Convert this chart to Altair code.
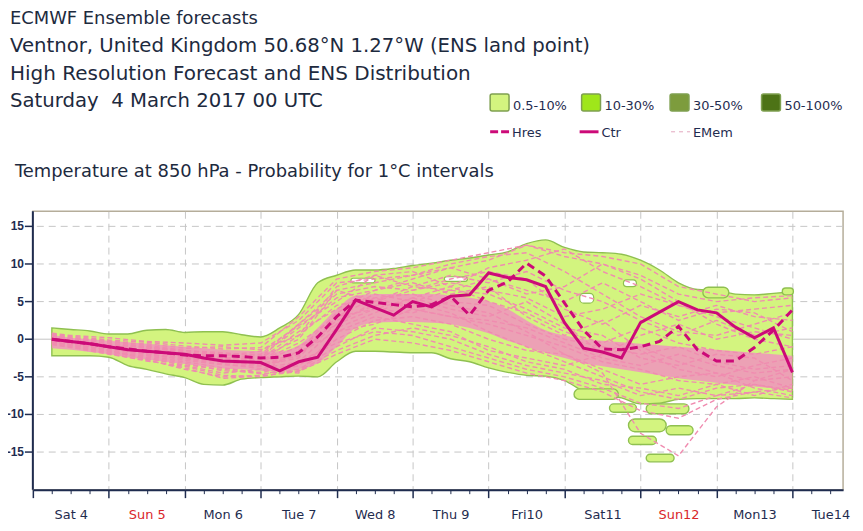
import json
import altair as alt
import pandas as pd

# ---------------- data ----------------
HOURS = list(range(6, 241, 6))  # hours after Sat 4 March 2017 00 UTC

CTR = [0.0, -0.3, -0.6, -1.0, -1.4, -1.6, -1.8, -2.0, -2.5, -2.9,
       -3.0, -3.1, -4.2, -3.0, -2.4, 1.3, 5.2, 4.2, 3.2, 5.0,
       4.3, 5.7, 5.9, 8.8, 8.2, 7.9, 7.0, 2.2, -1.2, -1.7,
       -2.5, 2.2, 3.6, 5.0, 3.9, 3.5, 1.6, 0.2, 1.5, -4.4]

HRES = [0.0, -0.3, -0.6, -1.0, -1.3, -1.6, -1.8, -2.1, -2.2, -2.2,
        -2.3, -2.5, -2.4, -1.8, 0.3, 3.0, 5.2, 4.9, 4.6, 4.3,
        4.6, 5.7, 3.2, 6.5, 7.6, 10.1, 8.4, 4.8, 1.2, -1.3,
        -1.4, -1.0, -0.3, 1.7, -1.4, -2.9, -2.9, -1.1, 1.2, 3.9]

ENS_HI = [1.5, 1.3, 1.1, 0.7, 0.7, 1.2, 1.3, 0.9, 1.0, 1.0,
          0.6, 0.3, 1.5, 3.3, 7.5, 8.5, 9.2, 9.2, 9.4, 9.8,
          10.1, 10.5, 10.8, 11.2, 11.6, 12.7, 13.2, 12.2, 11.6, 11.5,
          11.3, 10.5, 9.2, 7.5, 6.6, 6.5, 6.0, 5.9, 6.1, 6.3]

ENS_LO = [-2.2, -2.2, -2.2, -2.4, -3.5, -4.0, -4.6, -5.1, -6.0, -6.1,
          -5.3, -5.1, -5.0, -4.9, -5.0, -3.0, -1.6, -1.6, -1.7, -1.8,
          -1.8, -2.6, -3.0, -3.8, -4.4, -4.8, -4.9, -5.5, -6.9, -7.4,
          -7.8, -8.6, -8.5, -8.0, -7.9, -7.9, -7.9, -7.8, -7.9, -8.0]

CORE_HI = [0.6, 0.2, 0.0, -0.2, -0.4, -0.6, -0.8, -1.0, -1.2, -1.4,
           -1.5, -1.6, -1.6, -0.8, 1.5, 4.0, 5.8, 6.0, 6.0, 6.0,
           6.0, 5.8, 5.5, 5.0, 4.0, 2.5, 1.2, 0.5, 0.0, -0.2,
           -0.4, -0.6, -0.8, -1.0, -1.2, -1.4, -1.6, -1.8, -2.0, -2.2]

CORE_LO = [-1.2, -1.4, -1.7, -2.0, -2.4, -2.7, -3.0, -3.3, -3.6, -3.9,
           -4.0, -4.2, -4.3, -4.0, -3.2, -1.0, 1.5, 2.2, 2.3, 2.3,
           2.2, 2.0, 1.5, 0.8, -0.2, -1.0, -1.8, -2.5, -3.2, -3.6,
           -4.0, -4.4, -4.8, -5.2, -5.5, -5.8, -6.1, -6.3, -6.5, -6.6]

MEM_HOURS = [6, 12, 24, 36, 48, 60, 72, 84, 96, 108, 120, 132, 144, 156, 168, 180, 192, 204, 216, 228, 240]
MEMBERS = [
    [0.8, 0.5, 0.2, -0.3, -0.5, -0.8, -0.5, 2.5, 7.5, 8.0, 8.5, 9.5, 10.5, 12.5, 11.0, 10.0, 8.5, 6.0, 5.0, 5.5, 5.8],
    [0.3, 0.0, -0.8, -1.0, -1.5, -2.0, -2.0, 2.0, 6.0, 7.0, 6.5, 8.0, 9.0, 8.0, 4.0, 2.0, 4.5, 3.0, 4.5, 3.0, 2.5],
    [-0.5, -0.8, -1.2, -2.0, -2.5, -3.0, -3.5, -2.5, 3.0, 5.5, 4.0, 3.0, 2.0, 0.5, -1.0, -3.0, -4.0, -5.5, -6.0, -5.0, -6.5],
    [-0.2, -0.5, -1.5, -2.5, -3.5, -4.5, -4.0, -4.5, 1.0, 3.0, 2.0, 1.0, -1.5, -2.5, -3.5, -2.0, -1.0, -3.0, -4.5, -6.5, -7.5],
    [0.2, -0.2, -1.0, -1.5, -2.5, -3.0, -3.0, 0.5, 4.5, 5.5, 6.0, 4.5, 3.5, 1.0, -2.0, -4.5, -12.5, -15.5, -9.0, -5.5, -4.0],
    [-0.6, -1.0, -1.8, -2.2, -3.0, -3.8, -4.5, -3.0, -0.5, 1.0, 0.5, -1.0, -2.5, -4.0, -5.0, -6.5, -8.5, -9.2, -7.5, -7.0, -7.8],
    [0.5, 0.2, -0.2, -0.8, -1.5, -1.8, -2.2, 1.5, 5.5, 6.5, 8.0, 9.5, 8.0, 6.0, 7.0, 10.0, 8.0, 5.0, 2.0, 0.0, -1.0],
    [-0.3, -0.6, -1.3, -1.8, -2.0, -2.5, -3.0, -1.0, 2.0, 4.0, 3.5, 5.0, 4.5, 2.0, 0.0, -1.0, -2.0, -1.0, -3.0, -4.0, -3.5],
    [0.0, -0.4, -1.5, -2.7, -4.0, -5.0, -4.8, -3.5, 0.0, 2.5, 3.0, 2.0, 0.0, -1.5, -2.0, -4.0, -6.0, -5.0, -4.5, -5.5, -5.0],
    [0.4, 0.0, -0.5, -1.2, -2.0, -2.5, -2.5, 2.0, 6.5, 7.5, 8.5, 10.0, 11.0, 11.5, 9.0, 6.0, 3.0, 1.0, 0.5, 2.0, 3.5],
    [0.1, -0.3, -1.1, -1.9, -2.8, -3.4, -3.6, -2.0, 2.5, 4.5, 4.8, 3.5, 1.0, -1.0, -3.0, -5.0, -7.0, -8.0, -6.5, -6.0, -6.8],
    [-0.4, -0.7, -1.6, -2.4, -3.2, -4.2, -4.4, -1.5, 3.5, 6.0, 5.0, 6.5, 6.0, 4.0, 1.5, 0.5, -2.5, -3.5, -2.0, -2.5, -5.5],
    [0.6, 0.3, -0.4, -0.6, -1.2, -1.0, -1.4, 0.5, 7.0, 8.5, 9.0, 7.0, 9.5, 10.5, 12.0, 9.0, 7.0, 4.5, 3.5, 4.0, 4.5],
    [-0.1, -0.5, -1.4, -2.1, -2.6, -3.3, -3.9, -3.0, 1.5, 3.5, 5.5, 4.0, 3.0, 5.0, 2.0, -2.0, 0.5, 2.0, 0.0, 1.0, 0.5],
    [0.2, -0.1, -0.9, -1.4, -2.2, -2.8, -2.6, 1.0, 4.0, 6.5, 7.5, 6.0, 7.0, 3.0, 0.5, 2.5, -1.5, -4.0, -5.0, -3.5, -2.5],
    [-0.3, -0.8, -1.9, -2.9, -3.6, -4.8, -5.0, -4.0, -1.0, 1.5, 1.0, 0.0, -2.0, -3.5, -4.5, -5.5, -7.5, -6.5, -7.5, -6.0, -7.0],
    [0.7, 0.4, -0.1, -0.4, -0.9, -1.3, -1.1, 3.0, 8.0, 9.0, 9.5, 10.5, 11.5, 12.5, 11.5, 11.0, 10.0, 7.0, 6.0, 5.0, 5.5],
    [-0.2, -0.6, -1.2, -1.7, -2.3, -3.1, -3.4, -2.2, 2.0, 5.0, 6.5, 7.5, 6.5, 5.5, 3.0, 4.0, 6.0, 4.5, 3.0, 1.5, 0.0],
    [0.3, 0.1, -0.7, -1.1, -1.8, -2.4, -2.9, -0.5, 3.0, 4.0, 5.5, 7.0, 5.0, 3.5, 1.0, -0.5, 1.5, -0.5, -1.5, -2.0, -1.0],
    [-0.5, -0.9, -1.7, -2.6, -3.4, -4.0, -4.6, -4.2, -1.5, 0.5, 1.5, 0.5, -1.0, -3.0, -4.0, -6.0, -6.5, -7.5, -6.0, -7.5, -6.0],
    [0.0, -0.2, -0.6, -1.0, -1.8, -2.2, -1.6, 1.8, 5.0, 8.5, 7.0, 8.5, 7.5, 9.0, 6.5, 5.0, 2.5, 0.5, 2.5, 0.5, 1.5],
    [-0.1, -0.4, -1.0, -1.6, -2.4, -2.9, -3.3, -1.8, 1.0, 2.0, 4.0, 3.0, 2.5, 1.5, -0.5, -2.5, -3.5, -2.0, -3.5, -4.5, -4.0],
    [0.5, 0.1, -0.3, -1.0, -1.7, -2.1, -2.4, 0.0, 6.5, 5.0, 7.0, 6.5, 8.0, 6.5, 5.0, 7.5, 5.0, 2.5, 4.0, 3.5, 1.0],
    [-0.7, -1.1, -2.0, -2.8, -3.8, -5.2, -4.9, -4.3, -2.0, 0.0, -0.5, -1.5, -3.0, -4.5, -5.5, -7.0, -9.5, -10.5, -8.0, -7.0, -6.5],
]

# isolated 0.5-10% patches (start h, end h, low T, high T)
BLOB_H1 = [171.0, 182.2, 193.8, 188.2, 200.1, 188.2, 193.8, 211.7, 236.8]
BLOB_H2 = [185.0, 190.7, 207.3, 200.1, 208.6, 197.0, 202.6, 219.9, 240.3]
BLOB_LO = [-8.0, -9.7, -9.9, -12.3, -12.7, -14.0, -16.3, 5.5, 5.9]
BLOB_HI = [-6.6, -8.6, -8.6, -10.6, -11.5, -12.9, -15.3, 6.9, 6.8]

# holes inside the distribution
HOLE_H1 = [100.5, 130.0, 172.8, 186.6]
HOLE_H2 = [108.1, 137.3, 177.2, 190.7]
HOLE_LO = [7.5, 7.7, 4.8, 7.0]
HOLE_HI = [8.1, 8.3, 6.1, 7.9]

DAY_LABELS = ["Sat 4", "Sun 5", "Mon 6", "Tue 7", "Wed 8", "Thu 9",
              "Fri10", "Sat11", "Sun12", "Mon13", "Tue14"]
SUNDAYS = ["Sun 5", "Sun12"]
Y_TICKS = [-15, -10, -5, 0, 5, 10, 15]

TITLE_LINES = ["ECMWF Ensemble forecasts",
               "Ventnor, United Kingdom 50.68°N 1.27°W (ENS land point)",
               "High Resolution Forecast and ENS Distribution",
               "Saturday\u00a0 4 March 2017 00 UTC"]
SUBTITLE = "Temperature at 850 hPa - Probability for 1°C intervals"
PROB_LABELS = ["0.5-10%", "10-30%", "30-50%", "50-100%"]
LINE_LABELS = ["Hres", "Ctr", "EMem"]

# ---------------- styles ----------------
NAVY = "#1f2c4f"
TXT = "#1d2a3e"
MAGENTA = "#cc0a78"
MEM_COL = "#f08cb0"
CORE_COL = "#f38cc3"
ENS_FILL = "#d3f47f"
ENS_STROKE = "#8fc050"
GRID = "#c6c6c6"
PROB_COLORS = ["#d3f47f", "#9fe61a", "#7d9c3d", "#4d7316"]
FONT = "DejaVu Sans"

xs = alt.Scale(domain=[0, 256], nice=False, zero=False)
ys = alt.Scale(domain=[-20, 17], nice=False, zero=False)

df = pd.DataFrame({"h": HOURS, "ctr": CTR, "hres": HRES,
                   "hi": ENS_HI, "lo": ENS_LO, "chi": CORE_HI, "clo": CORE_LO})
mem_rows = []
for i, vals in enumerate(MEMBERS):
    for h, v in zip(MEM_HOURS, vals):
        mem_rows.append({"m": f"m{i+1}", "h": h, "t": v})
mem_df = pd.DataFrame(mem_rows)
blob_df = pd.DataFrame({"h1": BLOB_H1, "h2": BLOB_H2, "lo": BLOB_LO, "hi": BLOB_HI})
hole_df = pd.DataFrame({"h1": HOLE_H1, "h2": HOLE_H2, "lo": HOLE_LO, "hi": HOLE_HI})
ytick_df = pd.DataFrame({"y": Y_TICKS, "lab": [str(v) for v in Y_TICKS]})
ygrid_df = pd.DataFrame({"y": [v for v in Y_TICKS if v != 0]})

day_vals = [24 * k for k in range(len(DAY_LABELS))]
minor_vals = [h for h in range(6, 256, 6) if h % 24 != 0]
noon_vals = [24 * k + 12 for k in range(len(DAY_LABELS))]

axis_days = alt.Axis(values=day_vals, labels=False, ticks=True, tickSize=8,
                     tickColor=NAVY, tickWidth=1.5, domain=True, domainColor=NAVY,
                     domainWidth=2, grid=True, gridColor=GRID, gridDash=[7, 5],
                     gridWidth=1, title=None, orient="bottom")
axis_minor = alt.Axis(values=minor_vals, labels=False, ticks=True, tickSize=4,
                      tickColor=NAVY, tickWidth=1, domain=False, grid=False,
                      title=None, orient="bottom")
sun_vals = [24 * DAY_LABELS.index(s) + 12 for s in SUNDAYS]
sun_test = " || ".join(f"datum.value == {v}" for v in sun_vals)
axis_labels = alt.Axis(values=noon_vals, ticks=False, tickSize=0, domain=False, grid=False,
                       labelExpr=json.dumps(DAY_LABELS) + "[floor(datum.value / 24)]",
                       labelColor=alt.condition(sun_test, alt.value("#d9262a"), alt.value(NAVY)),
                       labelFont=FONT, labelFontSize=13, labelPadding=19,
                       labelAlign="center", title=None, orient="bottom")

# y axis drawn from the tick list through the y scale
ygrid = alt.Chart(ygrid_df).mark_rule(color=GRID, strokeWidth=1, strokeDash=[7, 5]).encode(
    y=alt.Y("y:Q", scale=ys, axis=None))
zero = alt.Chart(pd.DataFrame({"y": [0]})).mark_rule(color="#c4c4c4", strokeWidth=1).encode(
    y=alt.Y("y:Q", scale=ys, axis=None))
yticks = alt.Chart(ytick_df).mark_rule(color=NAVY, strokeWidth=1.5).encode(
    y=alt.Y("y:Q", scale=ys, axis=None), x=alt.value(-8), x2=alt.value(0))
ylabels = alt.Chart(ytick_df).mark_text(align="right", baseline="middle", font="Liberation Sans",
                                        fontSize=12, fontWeight="bold", color=NAVY).encode(
    y=alt.Y("y:Q", scale=ys, axis=None), x=alt.value(-9), text="lab:N")
ydomain = alt.Chart(pd.DataFrame({"y": [17], "y2": [-20]})).mark_rule(color=NAVY, strokeWidth=2).encode(
    y=alt.Y("y:Q", scale=ys, axis=None), y2="y2:Q", x=alt.value(0))

env = alt.Chart(df).mark_area(fill=ENS_FILL, stroke=ENS_STROKE, strokeWidth=1.4,
                              interpolate="monotone").encode(
    x=alt.X("h:Q", scale=xs, axis=axis_days),
    y=alt.Y("hi:Q", scale=ys, axis=None),
    y2="lo:Q")

blobs = alt.Chart(blob_df).mark_rect(fill=ENS_FILL, stroke=ENS_STROKE, strokeWidth=1.4,
                                     cornerRadius=8).encode(
    x=alt.X("h1:Q", scale=xs, axis=None), x2="h2:Q",
    y=alt.Y("hi:Q", scale=ys, axis=None), y2="lo:Q")

holes = alt.Chart(hole_df).mark_rect(fill="white", stroke=ENS_STROKE, strokeWidth=1.2,
                                     cornerRadius=4).encode(
    x=alt.X("h1:Q", scale=xs, axis=None), x2="h2:Q",
    y=alt.Y("hi:Q", scale=ys, axis=None), y2="lo:Q")

core = alt.Chart(df).mark_area(fill=CORE_COL, opacity=0.8, interpolate="monotone").encode(
    x=alt.X("h:Q", scale=xs, axis=None),
    y=alt.Y("chi:Q", scale=ys, axis=None),
    y2="clo:Q")

members = alt.Chart(mem_df).mark_line(color=MEM_COL, strokeWidth=1.4, strokeDash=[5, 3]).encode(
    x=alt.X("h:Q", scale=xs, axis=None),
    y=alt.Y("t:Q", scale=ys, axis=None),
    detail="m:N")

ctr = alt.Chart(df).mark_line(color=MAGENTA, strokeWidth=3).encode(
    x=alt.X("h:Q", scale=xs, axis=axis_minor),
    y=alt.Y("ctr:Q", scale=ys, axis=None))

hres = alt.Chart(df).mark_line(color=MAGENTA, strokeWidth=3, strokeDash=[8, 5]).encode(
    x=alt.X("h:Q", scale=xs, axis=axis_labels),
    y=alt.Y("hres:Q", scale=ys, axis=None))


def text_layer(txt, x, y, size, color=TXT, align="left"):
    return alt.Chart(pd.DataFrame({"t": [txt]})).mark_text(
        align=align, baseline="alphabetic", fontSize=size, font=FONT, color=color
    ).encode(text="t:N", x=alt.value(x), y=alt.value(y))


def rect_layer(x1, x2, y1, y2, fill, stroke):
    return alt.Chart(pd.DataFrame({"a": [0]})).mark_rect(
        fill=fill, stroke=stroke, strokeWidth=1.5, cornerRadius=2
    ).encode(x=alt.value(x1), x2=alt.value(x2), y=alt.value(y1), y2=alt.value(y2))


def line_layer(x1, x2, y, color, width, dash=None):
    kw = dict(color=color, strokeWidth=width)
    if dash:
        kw["strokeDash"] = dash
    return alt.Chart(pd.DataFrame({"a": [0]})).mark_rule(**kw).encode(
        x=alt.value(x1), x2=alt.value(x2), y=alt.value(y))


deco = []
for txt, yb, fs in zip(TITLE_LINES, [-188.5, -160.5, -132.5, -104.5], [18, 19.8, 20.1, 19.8]):
    deco.append(text_layer(txt, -23, yb, fs))
deco.append(text_layer(SUBTITLE, -18, -35, 18))

sq_x = [460, 552, 641, 733]
for lab, col, x0 in zip(PROB_LABELS, PROB_COLORS, sq_x):
    deco.append(rect_layer(x0, x0 + 19, -118, -101, col, "#7fa050"))
    deco.append(text_layer(lab, x0 + 23, -102, 13, NAVY))

ln_x = [460, 550, 642]
ln_style = [(MAGENTA, 3, [8, 3]), (MAGENTA, 3, None), ("#e2a6bd", 1, [4, 4])]
for lab, x0, (col, w, d) in zip(LINE_LABELS, ln_x, ln_style):
    deco.append(line_layer(x0, x0 + 19, -80, col, w, d))
    deco.append(text_layer(lab, x0 + 22, -75, 13, NAVY))

chart = alt.layer(ygrid, zero, env, blobs, holes, core, members, ctr, hres,
                  yticks, ylabels, ydomain, *deco).resolve_axis(
    x="independent"
).properties(
    width=815, height=280,
    autosize=alt.AutoSizeParams(type="none"),
    padding={"left": 25, "top": 203, "right": 12, "bottom": 32},
).configure_view(stroke="#b5ad9a", strokeWidth=1.5)

chart.save("out.html", embed_options={"renderer": "svg", "actions": False})
